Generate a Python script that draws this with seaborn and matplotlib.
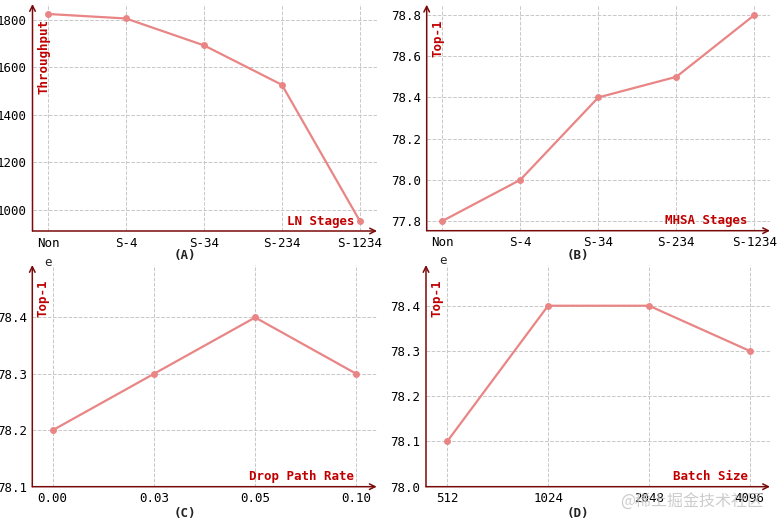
import pandas as pd
import matplotlib
matplotlib.use("Agg")
import matplotlib.pyplot as plt
import seaborn as sns

# data
stages = ["Non", "S-4", "S-34", "S-234", "S-1234"]
throughput = [1824, 1805, 1692, 1526, 953]
mhsa_top1 = [77.8, 78.0, 78.4, 78.5, 78.8]
drop_rates = ["0.00", "0.03", "0.05", "0.10"]
drop_top1 = [78.2, 78.3, 78.4, 78.3]
batch_sizes = ["512", "1024", "2048", "4096"]
batch_top1 = [78.1, 78.4, 78.4, 78.3]

sns.set_style("white")
plt.rcParams['font.family'] = ['DejaVu Sans Mono', 'Noto Sans CJK SC']

LINE = "#e98585"
AXC = "#7a0a0a"
LABC = "#c00000"

W, H = 783, 525
fig = plt.figure(figsize=(W / 100, H / 100), dpi=100)


def px_axes(x0, y0, x1, y1):
    return fig.add_axes([x0 / W, 1 - y1 / H, (x1 - x0) / W, (y1 - y0) / H])


panels = [
    dict(rect=(32.5, 4, 377, 231), x=stages, y=throughput, ylabel="Throughput",
         xlabel="LN Stages", ylim=(911, 1866), xlim=(-0.2, 4.22), tag="(A)", tagpos=(185, 255)),
    dict(rect=(426.7, 4.7, 770, 230.7), x=stages, y=mhsa_top1, ylabel="Top-1",
         xlabel="MHSA Stages", ylim=(77.753, 78.85), xlim=(-0.2, 4.2), tag="(B)", tagpos=(578, 255)),
    dict(rect=(32.3, 265, 376.7, 486.7), x=drop_rates, y=drop_top1, ylabel="Top-1",
         xlabel="Drop Path Rate", ylim=(78.1, 78.493), xlim=(-0.2, 3.2), tag="(C)", tagpos=(185, 513)),
    dict(rect=(426, 265, 770, 486.7), x=batch_sizes, y=batch_top1, ylabel="Top-1",
         xlabel="Batch Size", ylim=(78.0, 78.49), xlim=(-0.21, 3.2), tag="(D)", tagpos=(578, 513)),
]

for i, p in enumerate(panels):
    ax = px_axes(*p["rect"])
    df = pd.DataFrame({"x": p["x"], "y": p["y"]})
    sns.lineplot(data=df, x="x", y="y", ax=ax, color=LINE, linewidth=1.6,
                 marker="o", markersize=5, markeredgewidth=0, sort=False)
    ax.set_xlim(*p["xlim"])
    ax.set_ylim(*p["ylim"])
    if i >= 2:
        ax.set_yticks([t for t in ax.get_yticks() if t <= p["ylim"][1] - 0.05])
        ax.set_ylim(*p["ylim"])
    ax.grid(True, linestyle="--", color="#c8c8c8", linewidth=0.7)
    for s in ax.spines.values():
        s.set_visible(False)
    ax.tick_params(length=0, labelsize=9, colors="black", pad=4)
    ax.set_xlabel("")
    ax.set_ylabel("")
    # arrow axes
    ax.annotate("", xy=(1.0, 0), xytext=(0, 0), xycoords="axes fraction",
                arrowprops=dict(arrowstyle="->", color=AXC, lw=1.1, shrinkA=0, shrinkB=0))
    ax.annotate("", xy=(0, 1.0), xytext=(0, 0), xycoords="axes fraction",
                arrowprops=dict(arrowstyle="->", color=AXC, lw=1.1, shrinkA=0, shrinkB=0))
    ax.text(0.032, 0.935, p["ylabel"], transform=ax.transAxes, rotation=90,
            ha="center", va="top", color=LABC, fontsize=9, fontweight="bold")
    ax.text(0.935, 0.015, p["xlabel"], transform=ax.transAxes,
            ha="right", va="bottom", color=LABC, fontsize=9, fontweight="bold")
    fig.text(p["tagpos"][0] / W, 1 - p["tagpos"][1] / H, p["tag"], ha="center", va="center",
             fontsize=9, fontweight="bold", color="#222222")

# stray offset glyphs in the lower panels
fig.text(48 / W, 1 - 262 / H, "e", ha="center", va="center", fontsize=9)
fig.text(443 / W, 1 - 261 / H, "e", ha="center", va="center", fontsize=9)

# watermark
fig.text(692 / W, 1 - 502 / H, "@稀土掘金技术社区", ha="center", va="center",
         fontsize=11.5, color="#c4c4c4", alpha=0.85, family=["Noto Sans CJK SC"])

fig.savefig("out.png", dpi=100)
